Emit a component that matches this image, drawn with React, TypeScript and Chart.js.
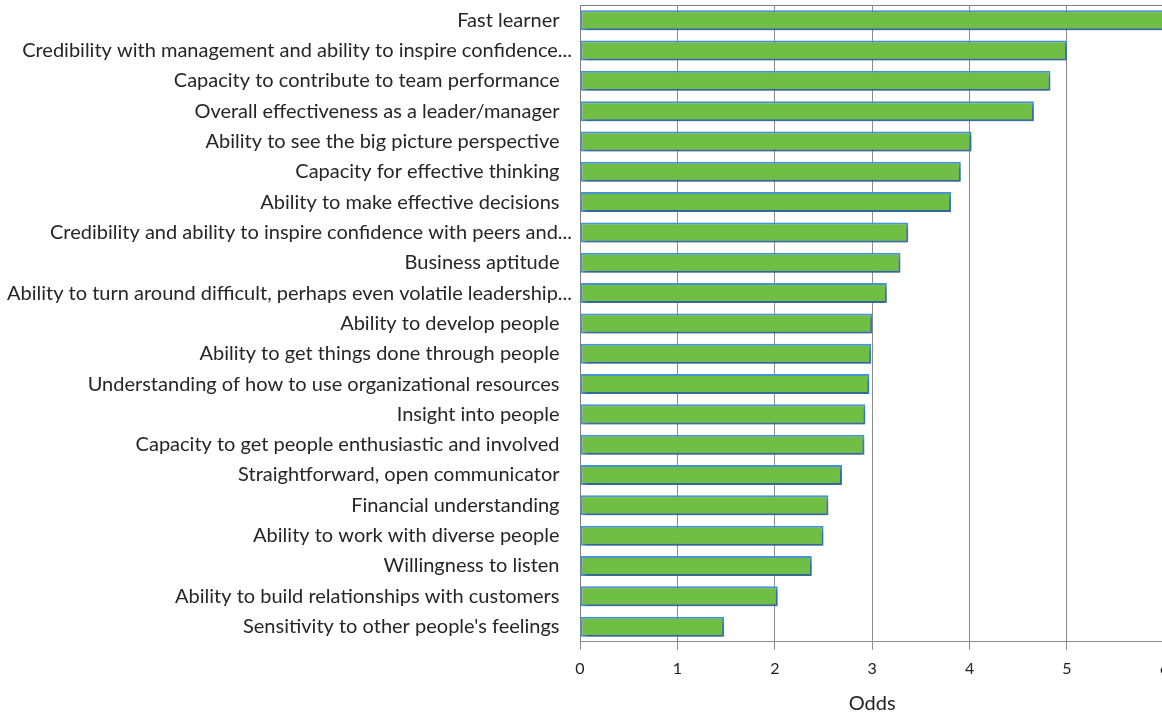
import React, { useEffect, useRef } from "react";
import { Chart, registerables } from "chart.js";

Chart.register(...registerables);

const categories: string[] = [
  "Fast learner ",
  "Credibility with management and ability to inspire confidence...",
  "Capacity to contribute to team performance ",
  "Overall effectiveness as a leader/manager ",
  "Ability to see the big picture perspective ",
  "Capacity for effective thinking ",
  "Ability to make effective decisions ",
  "Credibility and ability to inspire confidence with peers and...",
  "Business aptitude ",
  "Ability to turn around difficult, perhaps even volatile leadership...",
  "Ability to develop people ",
  "Ability to get things done through people ",
  "Understanding of how to use organizational resources ",
  "Insight into people ",
  "Capacity to get people enthusiastic and involved ",
  "Straightforward, open communicator ",
  "Financial understanding ",
  "Ability to work with diverse people ",
  "Willingness to listen ",
  "Ability to build relationships with customers ",
  "Sensitivity to other people's feelings ",
];

const odds: number[] = [
  6.0, 5.0, 4.83, 4.66, 4.02, 3.91, 3.81, 3.37, 3.29, 3.15, 3.0, 2.99, 2.97,
  2.93, 2.92, 2.69, 2.55, 2.5, 2.38, 2.03, 1.48,
];

const xTicks: number[] = [0, 1, 2, 3, 4, 5, 6];
const xTitle = "Odds";

const shadowPlugin = {
  id: "barShadow",
  beforeDatasetsDraw(chart: any) {
    const ctx = chart.ctx;
    ctx.save();
    ctx.shadowColor = "rgba(0,0,0,0.35)";
    ctx.shadowBlur = 4;
    ctx.shadowOffsetX = 2;
    ctx.shadowOffsetY = 3;
  },
  afterDatasetsDraw(chart: any) {
    chart.ctx.restore();
  },
};

const topBorderPlugin = {
  id: "topBorder",
  afterDraw(chart: any) {
    const { ctx, chartArea } = chart;
    ctx.save();
    ctx.strokeStyle = "#7f7f7f";
    ctx.lineWidth = 1;
    ctx.beginPath();
    ctx.moveTo(chartArea.left, chartArea.top + 0.5);
    ctx.lineTo(chartArea.right, chartArea.top + 0.5);
    ctx.stroke();
    ctx.restore();
  },
};

export default function App() {
  const ref = useRef<HTMLCanvasElement | null>(null);

  useEffect(() => {
    if (!ref.current) return;
    const chart = new Chart(ref.current, {
      type: "bar",
      data: {
        labels: categories,
        datasets: [
          {
            data: odds,
            backgroundColor: "#70bf44",
            borderColor: "#4696d6",
            borderWidth: 2,
            borderSkipped: false,
            categoryPercentage: 1,
            barPercentage: 0.66,
          },
        ],
      },
      options: {
        indexAxis: "y",
        animation: false,
        responsive: false,
        maintainAspectRatio: false,
        layout: { padding: { top: 5, left: 0, right: 0, bottom: 0 } },
        plugins: {
          legend: { display: false },
          tooltip: { enabled: false },
        },
        scales: {
          x: {
            min: 0,
            max: 6,
            afterBuildTicks(scale: any) {
              scale.ticks = xTicks.map((v) => ({ value: v }));
            },
            grid: {
              color: "#8c8c8c",
              lineWidth: 1,
              tickLength: 8,
              drawTicks: true,
            },
            border: { display: true, color: "#8c8c8c" },
            ticks: {
              color: "#222",
              padding: 9,
              maxRotation: 0,
              font: { family: "Lato", size: 16 },
            },
            title: {
              display: true,
              text: xTitle,
              color: "#222",
              font: { family: "Lato", size: 20 },
              padding: { top: 5, bottom: 0 },
            },
          },
          y: {
            afterFit(scale: any) {
              scale.width = 580;
              scale.paddingTop = 0;
              scale.paddingBottom = 0;
            },
            grid: {
              drawOnChartArea: false,
              drawTicks: true,
              tickLength: 8,
              tickColor: "rgba(0,0,0,0)",
            },
            border: { display: true, color: "#7f7f7f" },
            ticks: {
              color: "#262626",
              padding: 0,
              autoSkip: false,
              font: { family: "Lato", size: 20 },
              callback(this: any, value: any) {
                const label = String(this.getLabelForValue(value));
                return label.replace(/ $/, "\u2002\u2009");
              },
            },
          },
        },
      },
      plugins: [shadowPlugin, topBorderPlugin],
    });
    return () => chart.destroy();
  }, []);

  return (
    <div
      style={{
        position: "fixed",
        left: 0,
        top: 0,
        width: 1162,
        height: 716,
        overflow: "hidden",
        background: "#fff",
      }}
    >
      <canvas ref={ref} width={1178} height={716} style={{ display: "block" }} />
    </div>
  );
}
